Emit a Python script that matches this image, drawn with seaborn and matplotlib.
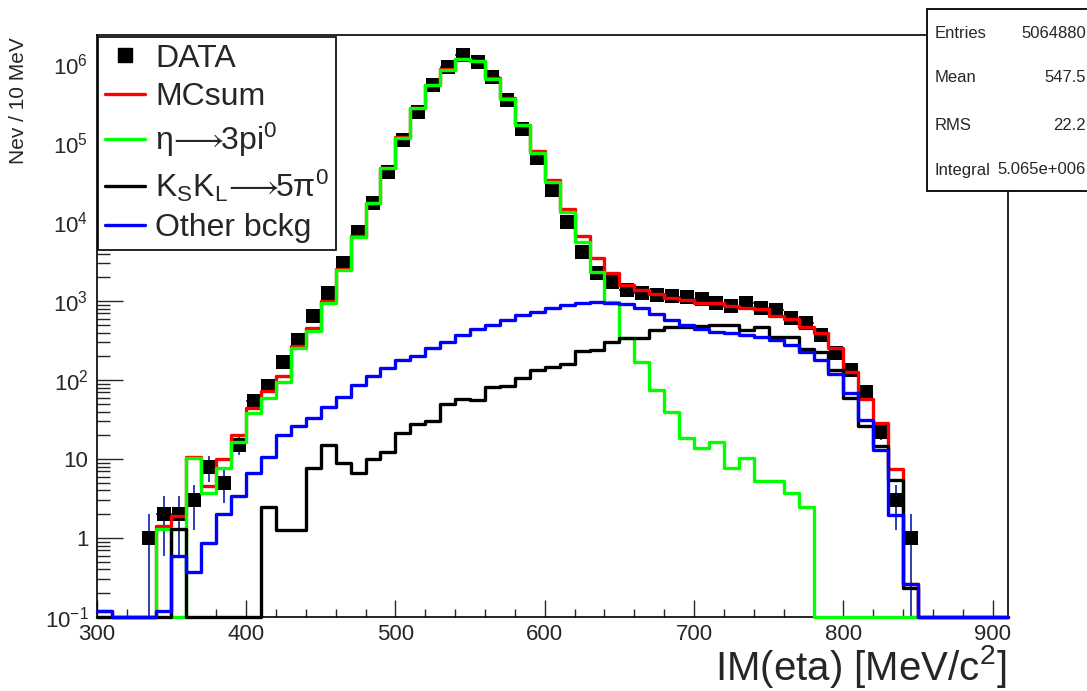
import numpy as np
import pandas as pd
import matplotlib
matplotlib.use("Agg")
import matplotlib.pyplot as plt
from matplotlib.lines import Line2D
from matplotlib.patches import Rectangle
from matplotlib.ticker import FixedLocator, FixedFormatter, MultipleLocator, LogLocator, NullFormatter
import seaborn as sns

# ---- binning: 10 MeV bins from 300 to 910 MeV ----
edges = np.arange(300, 911, 10)
centers = edges[:-1] + 5

# ---- measured invariant-mass spectrum (events / 10 MeV) ----
data_counts = [0, 0, 0, 1, 2, 2, 3, 8, 5, 15,
               54, 83, 170, 320, 650, 1260, 3000, 7540, 17300, 43400,
               109000, 249000, 542000, 925000, 1300000, 1070000, 690000, 350000, 153000, 64000,
               25400, 10100, 4200, 2300, 1740, 1380, 1260, 1190, 1160, 1130,
               1070, 940, 860, 940, 830, 770, 610, 530, 370, 220,
               134, 71, 22, 3, 1, 0, 0, 0, 0, 0, 0]

# ---- Monte Carlo components ----
mc_sum = [0.12, 0, 0, 0, 1.4, 1.9, 10.6, 4.6, 9.9, 20,
          44, 72, 114, 272, 458, 1000, 2530, 6610, 17720, 48050,
          118200, 275200, 542300, 857400, 1150400, 1100500, 659600, 368700, 169800, 80000,
          34000, 14550, 6750, 3500, 2240, 1620, 1400, 1230, 1100, 1020,
          960, 935, 880, 820, 800, 650, 600, 475, 390, 253,
          128, 58, 29, 7.4, 0.26, 0, 0, 0, 0, 0, 0]

eta_3pi0 = [0, 0, 0, 0, 1.3, 0, 10.2, 3.7, 7.8, 16.6,
            38, 59, 95, 252, 415, 940, 2460, 6520, 17600, 47900,
            118000, 275000, 542000, 857000, 1150000, 1100000, 659000, 368000, 169000, 75500,
            32400, 13500, 5640, 2340, 980, 340, 170, 75, 40, 18.7,
            14, 16.6, 7.7, 10.3, 5.2, 5.2, 3.7, 2.5, 0, 0,
            0, 0, 0, 0, 0, 0, 0, 0, 0, 0, 0]

kskl_5pi0 = [0, 0, 0, 0, 0, 1.3, 0, 0, 0, 0,
             0, 2.5, 1.26, 1.26, 7.8, 15, 8.9, 6.6, 10, 12.3,
             21.5, 28, 30, 50, 58, 56, 81, 84, 105, 134,
             145, 162, 234, 240, 300, 340, 340, 430, 470, 470,
             480, 500, 500, 430, 470, 350, 350, 250, 230, 134,
             60, 26, 14.5, 5.4, 0.23, 0, 0, 0, 0, 0, 0]

other_bkg = [0.12, 0, 0, 0, 0.12, 0.6, 0.37, 0.87, 2.0, 3.4,
             6.7, 10.7, 20, 26, 33, 46, 61, 87, 113, 141,
             178, 200, 252, 302, 370, 440, 500, 575, 665, 725,
             810, 890, 940, 980, 960, 920, 830, 690, 575, 500,
             450, 410, 390, 370, 350, 320, 277, 230, 178, 120,
             68, 31, 13, 1.96, 0.26, 0, 0, 0, 0, 0, 0]

series_names = ["MCsum",
                r"η$\!\longrightarrow\!\!$3pi$^0$",
                r"K$_S$K$_L$$\!\longrightarrow\!\!$5π$^0$",
                "Other bckg"]
series_colors = ["#ff0000", "#00ff00", "#000000", "#0000ff"]

# axis ticks
xtick_vals = [300, 400, 500, 600, 700, 800, 900]
xtick_labels = ["300", "400", "500", "600", "700", "800", "900"]
ytick_vals = [1e-1, 1, 10, 1e2, 1e3, 1e4, 1e5, 1e6]
ytick_labels = [r"10$^{-1}$", "1", "10", r"10$^{2}$", r"10$^{3}$",
                r"10$^{4}$", r"10$^{5}$", r"10$^{6}$"]

# statistics box
stat_names = ["Entries", "Mean", "RMS", "Integral"]
stat_values = ["5064880", "547.5", "22.2", "5.065e+006"]

# ---- style ----
sns.set_theme(style="white")
plt.rcParams["font.family"] = ["Liberation Sans", "DejaVu Sans"]
plt.rcParams["mathtext.fontset"] = "custom"
plt.rcParams["mathtext.rm"] = "Liberation Sans"
plt.rcParams["mathtext.it"] = "Liberation Sans:italic"
plt.rcParams["mathtext.default"] = "regular"
plt.rcParams["mathtext.fallback"] = "stixsans"

W, H = 1087, 691
fig = plt.figure(figsize=(W / 100, H / 100), dpi=100)
ax_l, ax_r, ax_t, ax_b = 96.7, 1007.7, 35, 617
ax = fig.add_axes([ax_l / W, 1 - ax_b / H, (ax_r - ax_l) / W, (ax_b - ax_t) / H])
ax.set_yscale("log")

floor = 0.1
ymax = 10 ** 6.37

# ---- data points with Poisson errors ----
dc = np.asarray(data_counts, dtype=float)
mask = dc > 0
err = np.sqrt(dc[mask])
lo = np.minimum(err, dc[mask] - 1e-4)
ax.errorbar(centers[mask], dc[mask], yerr=[lo, err], xerr=5, fmt="none",
            ecolor="#2f3fb0", elinewidth=1.4, zorder=2)
pts = pd.DataFrame({"mass": centers[mask], "count": dc[mask]})
sns.scatterplot(data=pts, x="mass", y="count", marker="s", s=100, color="black",
                linewidth=0, ax=ax, zorder=2.5, legend=False)

# ---- MC histograms as outlines (empty bins sit on the axis floor) ----
bin_list = edges.tolist()
mc = pd.DataFrame({"mass": centers, "MCsum": mc_sum, "eta": eta_3pi0,
                   "kskl": kskl_5pi0, "other": other_bkg})
for i, (col, color) in enumerate(zip(["MCsum", "eta", "kskl", "other"], series_colors)):
    frame = pd.DataFrame({"mass": mc["mass"],
                          "w": np.clip(mc[col].to_numpy(dtype=float), floor, None)})
    sns.histplot(data=frame, x="mass", weights="w", bins=bin_list, element="step",
                 fill=False, color=color, linewidth=2.4, ax=ax, zorder=3 + i,
                 clip_on=False)

ax.set_xlim(300, 910)
ax.set_ylim(floor, ymax)
ax.set_xlabel("")
ax.set_ylabel("")

# ---- ticks ----
ax.xaxis.set_major_locator(FixedLocator(xtick_vals))
ax.xaxis.set_major_formatter(FixedFormatter(xtick_labels))
ax.xaxis.set_minor_locator(MultipleLocator(20))
ax.yaxis.set_major_locator(FixedLocator(ytick_vals))
ax.yaxis.set_major_formatter(FixedFormatter(ytick_labels))
ax.yaxis.set_minor_locator(LogLocator(base=10, subs=np.arange(2, 10)))
ax.yaxis.set_minor_formatter(NullFormatter())
ax.tick_params(axis="x", which="major", direction="in", length=12, width=1.0,
               pad=5, labelsize=16, bottom=True, top=False)
ax.tick_params(axis="x", which="minor", direction="in", length=6, width=1.0,
               bottom=True, top=False)
ax.tick_params(axis="y", which="major", direction="in", length=19, width=1.0,
               pad=6, labelsize=16, left=True, right=False)
ax.tick_params(axis="y", which="minor", direction="in", length=9.5, width=1.0,
               left=True, right=False)
for sp in ax.spines.values():
    sp.set_color("black")
    sp.set_linewidth(1.2)

# ---- axis titles ----
fig.text(1006 / W, 1 - 680 / H, "IM(eta) [MeV/c$^{2}$]", ha="right", va="baseline",
         fontsize=29)
fig.text(19 / W, 1 - 37 / H, "Nev / 10 MeV", rotation=90, ha="center", va="top",
         fontsize=15)

# ---- legend ----
handles = [Line2D([], [], marker="s", ls="none", color="black", markersize=9.5)]
handles += [Line2D([], [], color=c, lw=2.4) for c in series_colors]
labels = ["DATA"] + series_names
leg = ax.legend(handles, labels, loc="upper left", bbox_to_anchor=(0.0, 1.0),
                borderaxespad=0.05, frameon=True, fancybox=False, framealpha=1,
                edgecolor="black", fontsize=23, handlelength=1.25,
                handletextpad=0.31, labelspacing=0.27, borderpad=0.22)
leg.get_frame().set_linewidth(1.2)
leg.set_zorder(20)

# ---- statistics box ----
box = Rectangle((927 / W, 1 - 191 / H), (1100 - 927) / W, (191 - 9) / H,
                transform=fig.transFigure, facecolor="white", edgecolor="black",
                linewidth=1.3, zorder=30)
fig.add_artist(box)
for name, val, yc in zip(stat_names, stat_values, [33, 78, 125, 170]):
    fig.text(935 / W, 1 - yc / H, name, ha="left", va="center", fontsize=12, zorder=31)
    fig.text(1086 / W, 1 - yc / H, val, ha="right", va="center", fontsize=12, zorder=31)

fig.savefig("out.png", dpi=100, facecolor="white")
